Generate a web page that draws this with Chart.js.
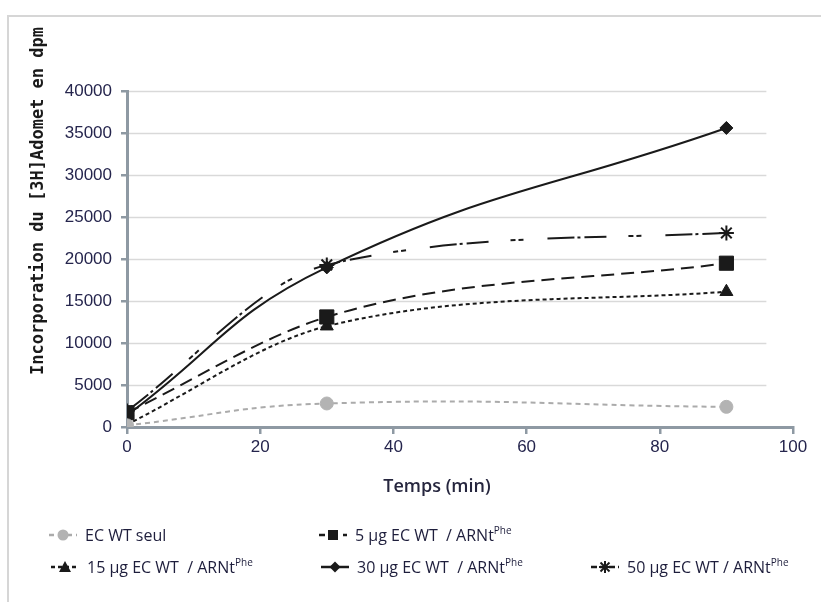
<!DOCTYPE html>
<html><head><meta charset="utf-8">
<script src="https://cdn.jsdelivr.net/npm/chart.js@4.4.1/dist/chart.umd.min.js"></script>
<style>
html,body{margin:0;padding:0;background:#fff;}
#wrap{position:relative;width:821px;height:602px;overflow:hidden;background:#fff;}
#frame{position:absolute;left:7px;top:15px;width:900px;height:700px;border-left:2.5px solid #d6d6d6;border-top:2.5px solid #d6d6d6;}
#c{position:absolute;left:0;top:0;}
.leg{position:absolute;display:flex;align-items:center;font-family:'Open Sans',sans-serif;font-size:16px;color:#1e1e3c;white-space:nowrap;height:20px;}
.leg svg{margin-right:7px;}
.leg sup{font-size:10px;position:relative;top:-1px;}
</style></head>
<body><div id="wrap"><div id="frame"></div><canvas id="c" width="821" height="602"></canvas><div id="legend"></div></div>
<script>
// ---- data ----
const times = [0, 30, 90];
const ecWtSeul = [200, 2800, 2400];
const ug5 = [1700, 13100, 19500];
const ug15 = [300, 12000, 16100];
const ug30 = [1400, 19000, 35600];
const ug50 = [1900, 19300, 23100];
const seriesLabels = ['EC WT seul', '5 µg EC WT  / ARNt', '15 µg EC WT  / ARNt', '30 µg EC WT  / ARNt', '50 µg EC WT / ARNt'];
const seriesSup = ['', 'Phe', 'Phe', 'Phe', 'Phe'];
const xTickValues = [0, 20, 40, 60, 80, 100];
const yTickValues = [0, 5000, 10000, 15000, 20000, 25000, 30000, 35000, 40000];
const xTitle = 'Temps (min)';
const yTitle = 'Incorporation du [3H]Adomet en dpm';

const axisColor = '#8e99a3';
const tickColor = '#25254d';
const black = '#1a1a1a';

function pts(vals){ return times.map((t,i)=>({x:t, y:vals[i]})); }

const styles = [
  {color:'#ababab', fill:'#b3b3b3', dash:[5,4], point:'circle', r:6.5, mode:'default', tension:0.45},
  {color:black, fill:black, dash:[13,7], point:'rect', r:10, mode:'monotone'},
  {color:black, fill:black, dash:[4,3], point:'triangle', r:7.5, mode:'monotone'},
  {color:black, fill:black, dash:[], point:'rectRot', r:6.5, mode:'default', tension:0.45},
  {color:black, fill:black, dash:[27,3,3,4,22,22,5,3,5,24], point:'star', r:7.5, mode:'monotone'}
];
const allVals = [ecWtSeul, ug5, ug15, ug30, ug50];

const datasets = allVals.map((v,i)=>({
  label: seriesLabels[i] + seriesSup[i],
  data: pts(v),
  borderColor: styles[i].color,
  backgroundColor: styles[i].fill,
  pointBackgroundColor: styles[i].fill,
  pointBorderColor: styles[i].fill,
  pointBorderWidth: styles[i].point==='star' ? 2 : 1,
  pointStyle: styles[i].point,
  pointRadius: styles[i].r,
  borderDash: styles[i].dash,
  borderWidth: 2,
  cubicInterpolationMode: styles[i].mode,
  tension: styles[i].tension || 0.4,
  fill: false
}));

const gridPlugin = {
  id:'customGrid',
  beforeDatasetsDraw(chart){
    const {ctx, scales:{x,y}} = chart;
    ctx.save();
    ctx.strokeStyle = '#d9d9d9';
    ctx.lineWidth = 1.5;
    yTickValues.forEach(v=>{
      if (v === 0) return;
      const py = Math.round(y.getPixelForValue(v)) + 0.5;
      ctx.beginPath();
      ctx.moveTo(x.left + 2, py);
      ctx.lineTo(x.getPixelForValue(96), py);
      ctx.stroke();
    });
    ctx.restore();
  }
};

const titlePlugin = {
  id:'titles',
  afterDraw(chart){
    const ctx = chart.ctx;
    ctx.save();
    ctx.fillStyle = '#1a1a1a';
    ctx.font = 'bold 17px "DejaVu Sans Mono"';
    ctx.textAlign = 'center';
    ctx.textBaseline = 'middle';
    ctx.translate(39, 201);
    ctx.rotate(-Math.PI/2);
    ctx.fillText(yTitle, 0, 0);
    ctx.restore();
    ctx.save();
    ctx.fillStyle = '#26263e';
    ctx.font = '600 18px "Open Sans"';
    ctx.textAlign = 'center';
    ctx.textBaseline = 'middle';
    ctx.fillText(xTitle, 437, 487);
    ctx.restore();
  }
};

new Chart(document.getElementById('c'), {
  type:'line',
  data:{datasets},
  options:{
    responsive:false,
    animation:false,
    layout:{padding:{left:0, top:91, right:28, bottom:0}},
    plugins:{legend:{display:false}, tooltip:{enabled:false}},
    scales:{
      x:{
        type:'linear', min:0, max:100,
        afterBuildTicks:s=>{ s.ticks = xTickValues.map(v=>({value:v})); },
        afterFit:s=>{ s.height = 175; },
        grid:{drawOnChartArea:false, drawTicks:true, tickLength:7, color:axisColor, lineWidth:2.5},
        border:{color:axisColor, width:3},
        ticks:{color:tickColor, font:{family:'Liberation Sans', size:17}, padding:3, maxRotation:0, callback:v=>String(v)}
      },
      y:{
        type:'linear', min:0, max:40000,
        afterBuildTicks:s=>{ s.ticks = yTickValues.map(v=>({value:v})); },
        afterFit:s=>{ s.width = 127; },
        grid:{drawOnChartArea:false, drawTicks:true, tickLength:6, color:axisColor, lineWidth:2.5},
        border:{color:axisColor, width:3},
        ticks:{color:tickColor, font:{family:'Liberation Sans', size:17}, padding:9, callback:v=>String(v)}
      }
    }
  },
  plugins:[gridPlugin, titlePlugin]
});

// ---- legend (HTML) ----
const legendPos = [[48,525],[318,525],[50,557],[320,557],[590,557]];
function markerSvg(st){
  const w=30, h=16, cx=15, cy=8;
  let m='';
  const f=st.fill;
  if (st.point==='circle') m=`<circle cx="${cx}" cy="${cy}" r="5.5" fill="${f}"/>`;
  else if (st.point==='rect') m=`<rect x="${cx-5}" y="${cy-5}" width="10" height="10" fill="${f}"/>`;
  else if (st.point==='triangle') m=`<polygon points="${cx},${cy-6} ${cx+6},${cy+5} ${cx-6},${cy+5}" fill="${f}"/>`;
  else if (st.point==='rectRot') m=`<polygon points="${cx},${cy-5.5} ${cx+5.5},${cy} ${cx},${cy+5.5} ${cx-5.5},${cy}" fill="${f}"/>`;
  else if (st.point==='star') m=`<g stroke="${f}" stroke-width="2"><line x1="${cx-6}" y1="${cy}" x2="${cx+6}" y2="${cy}"/><line x1="${cx}" y1="${cy-6}" x2="${cx}" y2="${cy+6}"/><line x1="${cx-4.5}" y1="${cy-4.5}" x2="${cx+4.5}" y2="${cy+4.5}"/><line x1="${cx-4.5}" y1="${cy+4.5}" x2="${cx+4.5}" y2="${cy-4.5}"/></g>`;
  const dash = st.dash.length ? `stroke-dasharray="${st.dash.slice(0,2).map(d=>Math.min(d,6)).join(',')}"` : '';
  return `<svg width="${w}" height="${h}"><line x1="1" y1="${cy}" x2="${w-1}" y2="${cy}" stroke="${st.color}" stroke-width="2.5" ${dash}/>${m}</svg>`;
}
const legEl = document.getElementById('legend');
seriesLabels.forEach((lab,i)=>{
  const d = document.createElement('div');
  d.className='leg';
  d.style.left = legendPos[i][0]+'px';
  d.style.top = legendPos[i][1]+'px';
  d.innerHTML = markerSvg(styles[i]) + '<span>' + lab.replace(/ /g,'&nbsp;') + (seriesSup[i] ? '<sup>'+seriesSup[i]+'</sup>' : '') + '</span>';
  legEl.appendChild(d);
});
</script>
</body></html>
